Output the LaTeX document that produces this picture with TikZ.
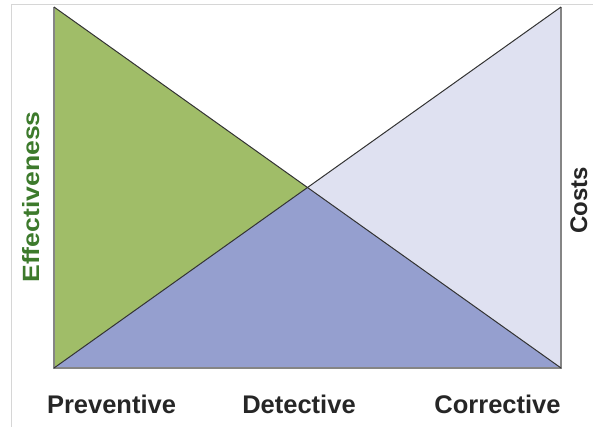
\documentclass[tikz,border=0pt]{standalone}
\usepackage{fontspec}
\usepackage{graphicx}
\setmainfont{Liberation Sans}
\definecolor{prevgreen}{HTML}{A0BD68}
\definecolor{detblue}{HTML}{959FCF}
\definecolor{corrlav}{HTML}{DFE1F1}
\definecolor{effgreen}{HTML}{3D7A2C}
\definecolor{framegrey}{HTML}{D6D6D6}
\definecolor{edgegrey}{HTML}{858585}
\definecolor{diaggrey}{HTML}{333333}
\tikzset{
  axislabel/.style={font=\fontsize{25.5}{30}\selectfont\bfseries, text=black!85, inner sep=0pt, anchor=base},
  sidelabel/.style={rotate=90, inner sep=0pt, anchor=base},
  edge/.style={draw=edgegrey, line width=1.5pt},
  diag/.style={draw=diaggrey, line width=1pt},
}
\begin{document}
\begin{tikzpicture}[x=1pt, y=-1pt]
\useasboundingbox (0,0) rectangle (593,427);
% thin frame along top and left
\draw[framegrey, line width=1pt] (11.5,427) -- (11.5,4.5) -- (593,4.5);

% corner points of the chart
\coordinate (tl) at (54,7);
\coordinate (bl) at (54,368);
\coordinate (tr) at (561,7);
\coordinate (br) at (561,368);
\coordinate (mid) at (307.5,187.5);

% the three regions
\fill[prevgreen] (tl) -- (bl) -- (mid) -- cycle;
\fill[corrlav] (tr) -- (br) -- (mid) -- cycle;
\fill[detblue] (bl) -- (br) -- (mid) -- cycle;

% outline
\draw[edge] (tl) -- (bl) -- (br) -- (tr);
\draw[diag] (tl) -- (br);
\draw[diag] (bl) -- (tr);

% labels
\node[axislabel] (prev) at (111.5,413) {Preventive};
\node[axislabel] (det) at (299,413) {Detective};
\node[axislabel] (corr) at (497.5,413) {Corrective};
\node[sidelabel, text=effgreen, font=\fontsize{23.5}{28}\selectfont\bfseries] (eff) at (39,197) {\scalebox{1.13}[1]{Effectiveness}};
\node[sidelabel, text=black!85, font=\fontsize{24}{29}\selectfont\bfseries] (cost) at (587,200) {Costs};
\end{tikzpicture}
\end{document}
